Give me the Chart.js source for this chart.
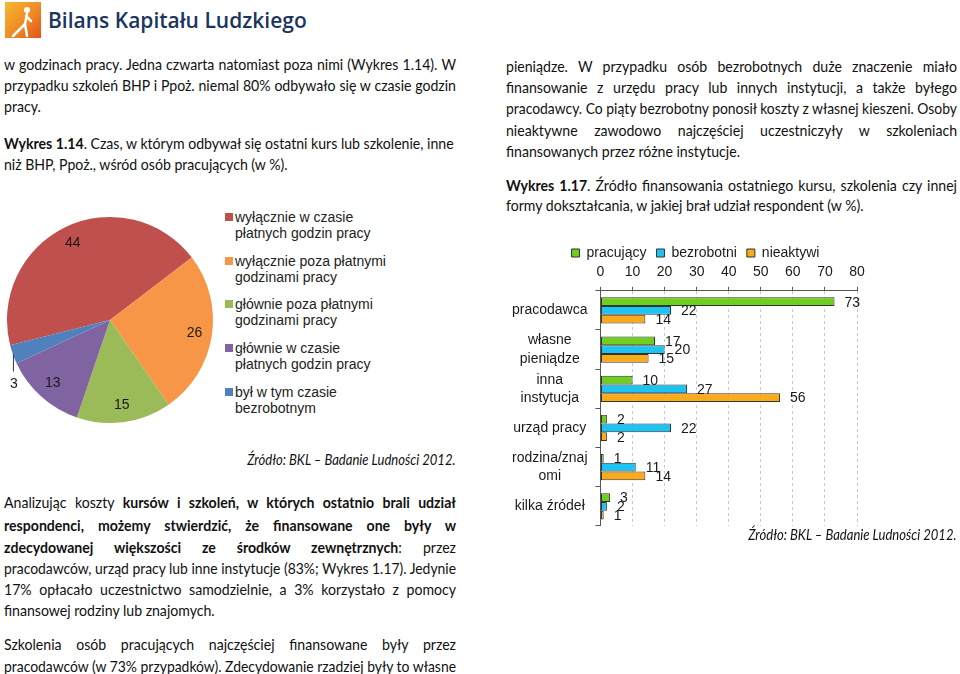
<!DOCTYPE html>
<html lang="pl">
<head>
<meta charset="utf-8">
<title>Bilans Kapitału Ludzkiego – Wykres 1.14 i 1.17</title>
<script src="https://cdn.jsdelivr.net/npm/chart.js@4.4.1/dist/chart.umd.min.js"></script>
<style>
  html, body { margin: 0; padding: 0; background: #fff; }
  body { width: 960px; height: 674px; position: relative; overflow: hidden; font-family: Lato, "Open Sans", sans-serif; color: #111; }
  .abs { position: absolute; }
  .ln { position: absolute; height: 21px; line-height: 21px; font-size: 15px; white-space: nowrap; transform-origin: left center; }
  .left { left: 4px; width: 452px; }
  .right { left: 506px; width: 451px; }
  .j { text-align: justify; text-align-last: justify; }
  .src { position: absolute; font-style: italic; font-size: 14.5px; white-space: nowrap; line-height: 18px; color: #111; transform: scaleX(0.9); transform-origin: right center; }
  .leg { position: absolute; font-family: "Liberation Sans", Arial, sans-serif; font-size: 14px; line-height: 16px; color: #222; }
  .leg i { position: absolute; left: -10px; top: 4px; width: 8px; height: 8px; }
  .measure { position: absolute; left: 0; top: 0; visibility: hidden; white-space: nowrap; display: inline-block; font-size: 15px; }
</style>
</head>
<body>

<!-- header -->
<div class="abs" style="left:5px;top:2px;width:36px;height:36px;background:linear-gradient(135deg,#f7b733 0%,#f08a24 55%,#e0531a 100%);">
  <svg width="36" height="36" viewBox="0 0 36 36">
    <circle cx="22" cy="8" r="3" fill="#fff"/>
    <path d="M22 12 L20 22 M20 22 L8 34 M20 22 L22 34 M21 14 L26 19" stroke="#fff" stroke-width="2.5" fill="none" stroke-linecap="round"/>
  </svg>
</div>
<div class="abs" style="left:48px;top:5px;font-family:'Open Sans',sans-serif;font-weight:600;font-size:21px;line-height:30px;color:#1c355e;white-space:nowrap;">Bilans Kapitału Ludzkiego</div>

<!-- left column text -->
<div class="ln left j" style="top:54px">w godzinach pracy. Jedna czwarta natomiast poza nimi (Wykres 1.14). W</div>
<div class="ln left j" style="top:75px">przypadku szkoleń BHP i Ppoż. niemal 80% odbywało się w czasie godzin</div>
<div class="ln left" style="top:96px">pracy.</div>
<div class="ln left" style="top:133px"><b>Wykres 1.14</b>. Czas, w którym odbywał się ostatni kurs lub szkolenie, inne</div>
<div class="ln left" style="top:154px">niż BHP, Ppoż., wśród osób pracujących (w %).</div>

<!-- pie chart -->
<div class="abs" style="left:0px;top:210px;width:220px;height:220px;"><canvas id="pie"></canvas></div>
<div id="pieLegend"></div>
<div class="src" style="right:504px;top:451px">Źródło: BKL – Badanie Ludności 2012.</div>

<div class="ln left j" style="top:492px">Analizując koszty <b>kursów i szkoleń, w których ostatnio brali udział</b></div>
<div class="ln left j" style="top:515px"><b>respondenci, możemy stwierdzić, że finansowane one były w</b></div>
<div class="ln left j" style="top:537px"><b>zdecydowanej większości ze środków zewnętrznych</b>: przez</div>
<div class="ln left j" style="top:558px">pracodawców, urząd pracy lub inne instytucje (83%; Wykres 1.17). Jedynie</div>
<div class="ln left j" style="top:579px">17% opłacało uczestnictwo samodzielnie, a 3% korzystało z pomocy</div>
<div class="ln left" style="top:600px">finansowej rodziny lub znajomych.</div>
<div class="ln left j" style="top:634px">Szkolenia osób pracujących najczęściej finansowane były przez</div>
<div class="ln left j" style="top:656px">pracodawców (w 73% przypadków). Zdecydowanie rzadziej były to własne</div>

<!-- right column text -->
<div class="ln right j" style="top:56px">pieniądze. W przypadku osób bezrobotnych duże znaczenie miało</div>
<div class="ln right j" style="top:77px">finansowanie z urzędu pracy lub innych instytucji, a także byłego</div>
<div class="ln right j" style="top:98px">pracodawcy. Co piąty bezrobotny ponosił koszty z własnej kieszeni. Osoby</div>
<div class="ln right j" style="top:120px">nieaktywne zawodowo najczęściej uczestniczyły w szkoleniach</div>
<div class="ln right" style="top:141px">finansowanych przez różne instytucje.</div>
<div class="ln right j" style="top:175px"><b>Wykres 1.17</b>. Źródło finansowania ostatniego kursu, szkolenia czy innej</div>
<div class="ln right" style="top:195px">formy dokształcania, w jakiej brał udział respondent (w %).</div>

<!-- bar chart -->
<div class="abs" style="left:496px;top:236px;width:398px;height:307px;"><canvas id="bar"></canvas></div>
<div class="src" style="right:3px;top:526px">Źródło: BKL – Badanie Ludności 2012.</div>

<script>
// Wykres 1.14 - pie
const pieLabels = [
  ['wyłącznie w czasie', 'płatnych godzin pracy'],
  ['wyłącznie poza płatnymi', 'godzinami pracy'],
  ['głównie poza płatnymi', 'godzinami pracy'],
  ['głównie w czasie', 'płatnych godzin pracy'],
  ['był w tym czasie', 'bezrobotnym']
];
const pieValues = [44, 26, 15, 13, 3];
const pieColors = ['#c0504d', '#f79646', '#9bbb59', '#8064a2', '#4f81bd'];

// Wykres 1.17 - horizontal bars
const barCategories = [
  ['pracodawca'],
  ['własne', 'pieniądze'],
  ['inna', 'instytucja'],
  ['urząd pracy'],
  ['rodzina/znaj', 'omi'],
  ['kilka źródeł']
];
const seriesNames = ['pracujący', 'bezrobotni', 'nieaktywi'];
const pracujacy = [73, 17, 10, 2, 1, 3];
const bezrobotni = [22, 20, 27, 22, 11, 2];
const nieaktywni = [14, 15, 56, 2, 14, 1];
const barColors = ['#6fcf1e', '#1dc4f2', '#fbaa1a'];

const chartFont = '"Liberation Sans", Arial, sans-serif';

// Lato runs wider than the original Calibri, so squeeze every line a bit
// (more where the natural width would not fit the column)
document.querySelectorAll('.ln').forEach(el => {
  const colW = el.clientWidth;
  const m = document.createElement('span');
  m.className = 'measure';
  m.innerHTML = el.innerHTML;
  document.body.appendChild(m);
  const natural = m.getBoundingClientRect().width;
  m.remove();
  const k = Math.min(0.94, colW / natural);
  el.style.width = (colW / k) + 'px';
  el.style.transform = 'scaleX(' + k + ')';
});

// legend for the pie, as plain html next to the canvas
const legendDiv = document.getElementById('pieLegend');
pieLabels.forEach((lines, i) => {
  const d = document.createElement('div');
  d.className = 'leg';
  d.style.left = '235px';
  d.style.top = (209 + i * 43.7) + 'px';
  d.innerHTML = '<i style="background:' + pieColors[i] + '"></i>' + lines.join('<br>');
  legendDiv.appendChild(d);
});

// value labels on slices; tiny slices get a leader line going down
const pieLabelPlugin = {
  id: 'pieLabels',
  afterDatasetsDraw(chart) {
    const ctx = chart.ctx;
    const meta = chart.getDatasetMeta(0);
    ctx.save();
    ctx.font = '14px ' + chartFont;
    ctx.fillStyle = '#1a1a1a';
    ctx.textAlign = 'center';
    ctx.textBaseline = 'middle';
    meta.data.forEach((arc, i) => {
      const p = arc.getProps(['x', 'y', 'startAngle', 'endAngle', 'outerRadius']);
      const mid = (p.startAngle + p.endAngle) / 2;
      const v = pieValues[i];
      if (v >= 5) {
        const r = p.outerRadius * 0.83;
        ctx.fillText(v, p.x + Math.cos(mid) * r, p.y + Math.sin(mid) * r);
      } else {
        const ex = p.x + Math.cos(mid) * p.outerRadius;
        const ey = p.y + Math.sin(mid) * p.outerRadius;
        ctx.strokeStyle = '#333';
        ctx.lineWidth = 1;
        ctx.beginPath();
        ctx.moveTo(ex + 0.5, ey);
        ctx.lineTo(ex + 0.5, ey + 17);
        ctx.stroke();
        ctx.fillText(v, ex + 1, ey + 30);
      }
    });
    ctx.restore();
  }
};

new Chart(document.getElementById('pie').getContext('2d'), {
  type: 'pie',
  data: {
    labels: pieLabels.map(l => l.join(' ')),
    datasets: [{
      data: pieValues,
      backgroundColor: pieColors,
      borderWidth: 0
    }]
  },
  options: {
    responsive: true,
    maintainAspectRatio: false,
    animation: false,
    rotation: -104.2,
    layout: { padding: 7 },
    plugins: { legend: { display: false }, tooltip: { enabled: false } }
  },
  plugins: [pieLabelPlugin]
});

// value labels to the right of each bar
const barLabelPlugin = {
  id: 'barLabels',
  afterDatasetsDraw(chart) {
    const ctx = chart.ctx;
    ctx.save();
    ctx.font = '14px ' + chartFont;
    ctx.fillStyle = '#1a1a1a';
    ctx.textAlign = 'left';
    ctx.textBaseline = 'middle';
    chart.data.datasets.forEach((ds, di) => {
      chart.getDatasetMeta(di).data.forEach((bar, i) => {
        ctx.fillText(ds.data[i], bar.x + 10, bar.y + 1);
      });
    });
    ctx.restore();
  }
};

// legend sits tight above the tick numbers, a bit right of canvas centre
const legendTweak = {
  id: 'legendTweak',
  beforeInit(chart) {
    const lg = chart.legend;
    const fit = lg.fit;
    lg.fit = function () {
      fit.apply(lg, arguments);
      lg.height = 22;
    };
    const draw = lg.draw;
    lg.draw = function () {
      // draw with a taller box so the labels are not clipped
      const h = lg.height, b = lg.bottom;
      lg.height = h + 12;
      lg.bottom = b + 12;
      chart.ctx.save();
      chart.ctx.translate(15, 0);
      draw.apply(lg, arguments);
      chart.ctx.restore();
      lg.height = h;
      lg.bottom = b;
    };
  }
};

const seriesData = [pracujacy, bezrobotni, nieaktywni];

new Chart(document.getElementById('bar').getContext('2d'), {
  type: 'bar',
  data: {
    labels: barCategories,
    datasets: seriesNames.map((name, i) => ({
      label: name,
      data: seriesData[i],
      backgroundColor: barColors[i],
      borderColor: '#333',
      borderWidth: 1,
      borderSkipped: false,
      barPercentage: 1,
      categoryPercentage: 0.67
    }))
  },
  options: {
    indexAxis: 'y',
    responsive: true,
    maintainAspectRatio: false,
    animation: false,
    layout: { padding: { left: 8, right: 37, top: 0, bottom: 10 } },
    scales: {
      x: {
        position: 'top',
        min: 0,
        max: 80,
        ticks: { stepSize: 10, color: '#1a1a1a', font: { family: chartFont, size: 14 }, padding: 6 },
        grid: { color: '#c8c8c8', tickColor: '#555', tickLength: 4, lineWidth: 1 },
        border: { display: true, color: '#555', dash: [3, 3] }
      },
      y: {
        ticks: { color: '#1a1a1a', font: { family: chartFont, size: 14, lineHeight: 1.3 }, crossAlign: 'center', padding: 8, autoSkip: false },
        grid: { drawOnChartArea: false, offset: true, tickColor: '#555', tickLength: 5 },
        border: { display: true, color: '#555' }
      }
    },
    plugins: {
      legend: {
        position: 'top',
        labels: { boxWidth: 8, boxHeight: 8, padding: 10, color: '#1a1a1a', font: { family: chartFont, size: 14 } }
      },
      tooltip: { enabled: false }
    }
  },
  plugins: [barLabelPlugin, legendTweak]
});
</script>
</body>
</html>
